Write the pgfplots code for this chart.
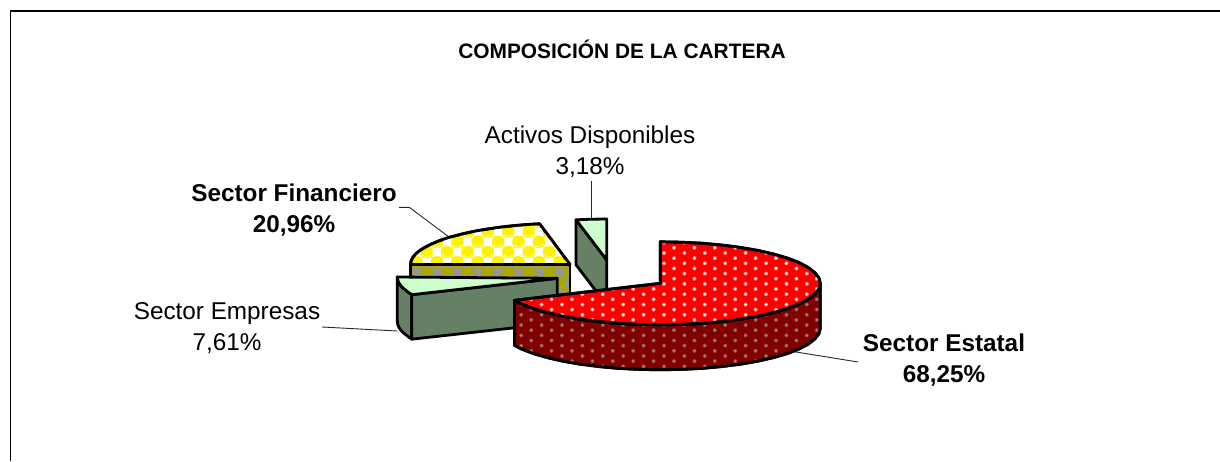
\documentclass[border=0pt]{standalone}
\usepackage{fontspec}
\setmainfont{Liberation Sans}
\usepackage{pgfplots}
\pgfplotsset{compat=1.18}
\usetikzlibrary{patterns}

\definecolor{darkred}{HTML}{800000}
\definecolor{palegreen}{HTML}{CCFFCC}
\definecolor{sidegreen}{HTML}{668066}
\definecolor{olive1}{HTML}{A8A800}
\definecolor{gray1}{HTML}{969696}
\definecolor{pink1}{HTML}{FF8C8C}
\definecolor{halo1}{HTML}{A04848}
\definecolor{dot1}{HTML}{8C8C8C}
\definecolor{paleyellow}{HTML}{FFFF80}
\definecolor{paleolive}{HTML}{B4B428}

% small dots on a staggered lattice, 20.4 by 10.3 pixels; the fill goes under them
\newcommand\dotcell[3]{%
  \pgfsetfillcolor{#1}%
  \pgfpathcircle{\pgfqpoint{11.2pt}{2pt}}{2pt}\pgfpathcircle{\pgfqpoint{0.8pt}{7.2pt}}{2pt}\pgfusepath{fill}%
  \pgfsetfillcolor{#2}%
  \pgfpathcircle{\pgfqpoint{11.2pt}{2pt}}{#3pt}\pgfpathcircle{\pgfqpoint{0.8pt}{7.2pt}}{#3pt}\pgfusepath{fill}%
}
\pgfdeclarepatterninherentlycolored{reddots}{\pgfqpoint{-5pt}{-1pt}}{\pgfqpoint{15.4pt}{9.3pt}}{\pgfqpoint{20.4pt}{10.3pt}}{\dotcell{pink1}{white}{1.2}}
\pgfdeclarepatterninherentlycolored{darkdots}{\pgfqpoint{-5pt}{-1pt}}{\pgfqpoint{15.4pt}{9.3pt}}{\pgfqpoint{20.4pt}{10.3pt}}{\dotcell{halo1}{dot1}{1.2}}

% square with hollow sides, as left between the round spots
\newcommand\hollowsquare[2]{%
  \begin{pgfscope}%
  \pgftransformshift{\pgfqpoint{#1pt}{#2pt}}%
  \pgfpathmoveto{\pgfqpoint{5pt}{5pt}}%
  \pgfpathlineto{\pgfqpoint{5pt}{4.2pt}}\pgfpathlineto{\pgfqpoint{4.2pt}{2.5pt}}\pgfpathlineto{\pgfqpoint{3.9pt}{0pt}}%
  \pgfpathlineto{\pgfqpoint{4.2pt}{-2.5pt}}\pgfpathlineto{\pgfqpoint{5pt}{-4.2pt}}\pgfpathlineto{\pgfqpoint{5pt}{-5pt}}%
  \pgfpathlineto{\pgfqpoint{4.2pt}{-5pt}}\pgfpathlineto{\pgfqpoint{2.5pt}{-4.2pt}}\pgfpathlineto{\pgfqpoint{0pt}{-3.9pt}}%
  \pgfpathlineto{\pgfqpoint{-2.5pt}{-4.2pt}}\pgfpathlineto{\pgfqpoint{-4.2pt}{-5pt}}\pgfpathlineto{\pgfqpoint{-5pt}{-5pt}}%
  \pgfpathlineto{\pgfqpoint{-5pt}{-4.2pt}}\pgfpathlineto{\pgfqpoint{-4.2pt}{-2.5pt}}\pgfpathlineto{\pgfqpoint{-3.9pt}{0pt}}%
  \pgfpathlineto{\pgfqpoint{-4.2pt}{2.5pt}}\pgfpathlineto{\pgfqpoint{-5pt}{4.2pt}}\pgfpathlineto{\pgfqpoint{-5pt}{5pt}}%
  \pgfpathlineto{\pgfqpoint{-4.2pt}{5pt}}\pgfpathlineto{\pgfqpoint{-2.5pt}{4.2pt}}\pgfpathlineto{\pgfqpoint{0pt}{3.9pt}}%
  \pgfpathlineto{\pgfqpoint{2.5pt}{4.2pt}}\pgfpathlineto{\pgfqpoint{4.2pt}{5pt}}\pgfpathclose\pgfusepath{fill}%
  \end{pgfscope}%
}
% pale crescent low in a spot
\newcommand\crescent[2]{%
  \pgfpathmoveto{\pgfpoint{#1pt-4.6pt}{#2pt-2.6pt}}%
  \pgfpathquadraticcurveto{\pgfpoint{#1pt}{#2pt-7.6pt}}{\pgfpoint{#1pt+4.6pt}{#2pt-2.6pt}}%
}
\newcommand\checkcell[2]{%
  \pgfsetfillcolor{#1}%
  \hollowsquare{8.5}{4.9}\hollowsquare{18.7}{15.1}%
  \pgfsetstrokecolor{#2}\pgfsetlinewidth{0.8pt}%
  \crescent{8.5}{15.1}\crescent{18.7}{4.9}\pgfusepath{stroke}%
}
\pgfdeclarepatterninherentlycolored{yellowcheck}{\pgfqpoint{3.4pt}{-0.7pt}}{\pgfqpoint{23.8pt}{19.7pt}}{\pgfqpoint{20.4pt}{20.4pt}}{\checkcell{white}{paleyellow}}
\pgfdeclarepatterninherentlycolored{olivecheck}{\pgfqpoint{3.4pt}{-0.7pt}}{\pgfqpoint{23.8pt}{19.7pt}}{\pgfqpoint{20.4pt}{20.4pt}}{\checkcell{gray1}{paleolive}}

\tikzset{
  slice/.style={draw=black, line width=2.8pt, line join=round},
  leader/.style={draw=black!85, line width=0.9pt},
  lbl/.style={align=center, inner sep=0pt, font=\fontsize{24.3}{31}\selectfont},
  lblb/.style={align=center, inner sep=0pt, font=\fontsize{24.3}{31}\selectfont\bfseries},
}

\begin{document}
\begin{tikzpicture}
\begin{axis}[
    hide axis,
    scale only axis,
    width=1220pt,
    height=461pt,
    xmin=0, xmax=1220,
    ymin=0, ymax=461,
    y dir=reverse,
    every axis plot/.append style={no markers},
]
% keeps the page as large as the picture
\addplot[draw=none] coordinates {(0,0) (1220,461)};

% frame
\addplot[draw=black, line width=1.6pt] coordinates {(10.5,461) (10.5,10.7) (1220,10.7)};

% leader lines
\addplot[leader] coordinates {(591,181) (591,219)};
\addplot[leader] coordinates {(399,207.3) (409.3,207.3) (449,237)};
\addplot[leader] coordinates {(322,327) (397.3,331)};
\addplot[leader] coordinates {(790,351) (858,362)};

% Activos Disponibles 3,18
\addplot[slice, fill=sidegreen] coordinates {(576,219.8) (606.7,260) (606.7,305) (576,264.8)} -- cycle;
\addplot[slice, fill=palegreen] coordinates {(606.7,219) (591.4,219.2) (576,219.8) (606.7,260)} -- cycle;

% Sector Financiero 20,96
\addplot[slice, preaction={fill=olive1}, pattern=olivecheck] coordinates {(410.5,264.5) (570,264.5) (570,300) (410.5,300)} -- cycle;
\addplot[slice, preaction={fill=yellow}, pattern=yellowcheck] coordinates {
  (410.5,264.5) (411.1,260.9) (412.9,257.3) (415.9,253.8) (420.1,250.3) (425.4,247.0)
  (431.9,243.8) (439.3,240.7) (447.8,237.8) (457.2,235.2) (467.5,232.7) (478.5,230.5)
  (490.2,228.6) (502.6,226.9) (515.4,225.5) (528.7,224.4) (539.6,223.8) (570,264.5)} -- cycle;

% Sector Empresas 7,61
\addplot[slice, fill=sidegreen] coordinates {
  (397.3,277) (397.7,279.9) (398.9,282.8) (400.8,285.6) (403.5,288.4) (407.0,291.2) (411.7,294.7)
  (411.7,339.2) (407.0,335.7) (403.5,332.9) (400.8,330.1) (398.9,327.3) (397.7,324.4) (397.3,321.5)} -- cycle;
\addplot[slice, fill=sidegreen] coordinates {(411.7,294.7) (557.3,278.3) (557.3,323) (411.7,339.2)} -- cycle;
\addplot[slice, fill=palegreen] coordinates {
  (397.3,277) (397.7,279.9) (398.9,282.8) (400.8,285.6) (403.5,288.4) (407.0,291.2) (411.7,294.7) (557.3,278.3)} -- cycle;

% Sector Estatal 68,25
\addplot[slice, preaction={fill=darkred}, pattern=darkdots] coordinates {
  (820.3,283.3) (818.9,288.7) (814.8,294.0) (808.1,299.2) (798.9,304.1) (787.2,308.6) (773.4,312.6)
  (757.7,316.2) (740.3,319.2) (721.5,321.6) (701.7,323.4) (681.2,324.4) (660.3,324.8) (639.4,324.4)
  (618.9,323.4) (599.1,321.6) (580.3,319.2) (562.9,316.2) (547.2,312.6) (533.4,308.6) (521.7,304.1) (514.5,300.3)
  (514.5,345.3) (521.7,349.1) (533.4,353.6) (547.2,357.6) (562.9,361.2) (580.3,364.2) (599.1,366.6) (618.9,368.4)
  (639.4,369.4) (660.3,369.8) (681.2,369.4) (701.7,368.4) (721.5,366.6) (740.3,364.2) (757.7,361.2) (773.4,357.6)
  (787.2,353.6) (798.9,349.1) (808.1,344.2) (814.8,339.0) (818.9,333.7) (820.3,328.3)} -- cycle;
\addplot[slice, preaction={fill=red}, pattern=reddots] coordinates {
  (660.3,241.8) (681.2,242.2) (701.7,243.2) (721.5,245.0) (740.3,247.4) (757.7,250.4) (773.4,254.0)
  (787.2,258.0) (798.9,262.5) (808.1,267.4) (814.8,272.6) (818.9,277.9) (820.3,283.3) (818.9,288.7)
  (814.8,294.0) (808.1,299.2) (798.9,304.1) (787.2,308.6) (773.4,312.6) (757.7,316.2) (740.3,319.2)
  (721.5,321.6) (701.7,323.4) (681.2,324.4) (660.3,324.8) (639.4,324.4) (618.9,323.4) (599.1,321.6)
  (580.3,319.2) (562.9,316.2) (547.2,312.6) (533.4,308.6) (521.7,304.1) (514.5,300.3) (660.3,283.3)} -- cycle;

% labels
\node[align=center, inner sep=0pt, font=\fontsize{20.9}{26}\selectfont\bfseries] at (axis cs:622,49.5) {COMPOSICIÓN DE LA CARTERA};
\node[lbl] at (axis cs:590,152) {Activos Disponibles\\3,18\%};
\node[lblb] at (axis cs:294,210.5) {Sector Financiero\\20,96\%};
\node[lbl] at (axis cs:227,328.5) {Sector Empresas\\7,61\%};
\node[lblb] at (axis cs:944,360.5) {Sector Estatal\\68,25\%};
\end{axis}
\end{tikzpicture}
\end{document}
